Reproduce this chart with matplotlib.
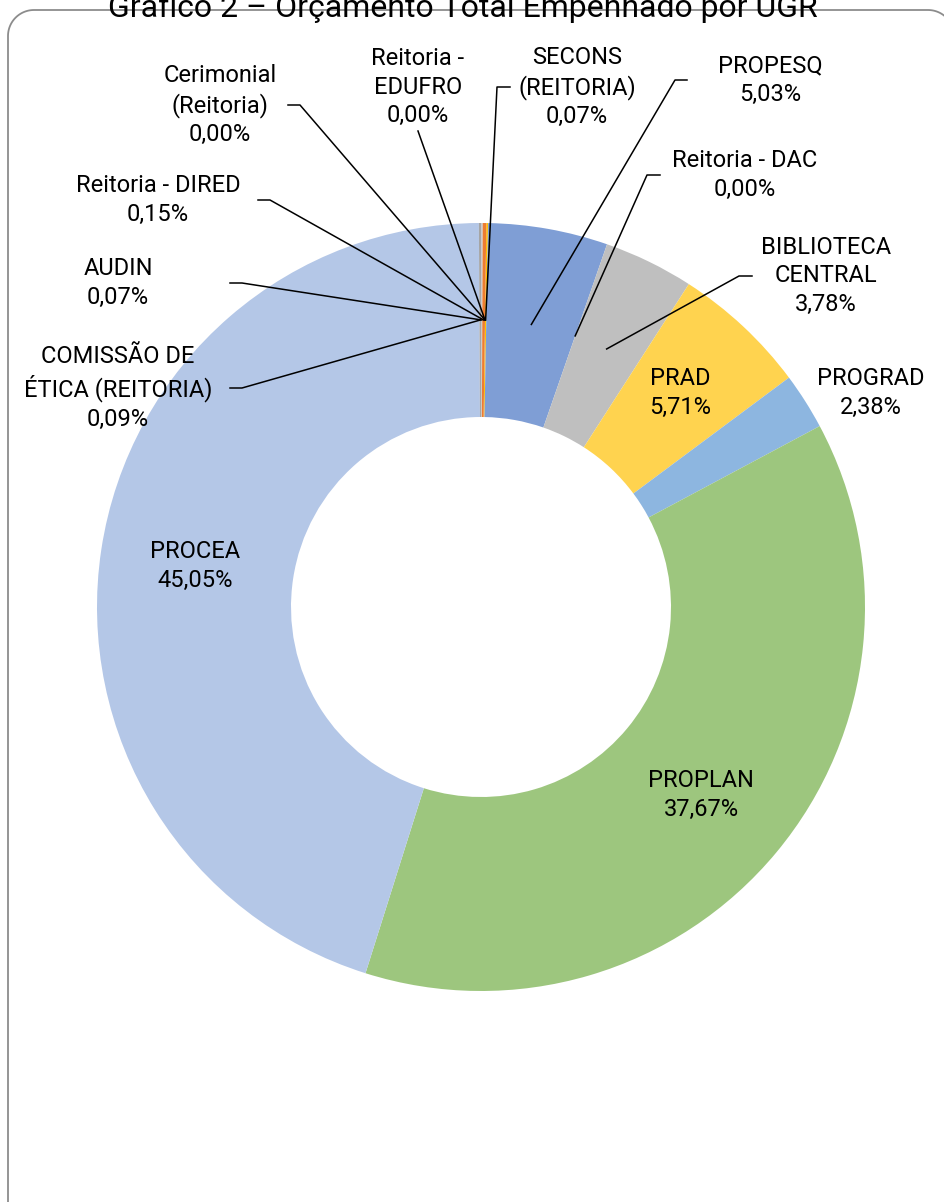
import numpy as np
import matplotlib.pyplot as plt

plt.rcParams['font.family'] = ['Roboto', 'DejaVu Sans']

# data, clockwise from 12 o'clock
units = ['SECONS\n(REITORIA)', 'PROPESQ', 'Reitoria - DAC', 'BIBLIOTECA\nCENTRAL',
         'PRAD', 'PROGRAD', 'PROPLAN', 'PROCEA', 'COMISSÃO DE\nÉTICA (REITORIA)',
         'AUDIN', 'Reitoria - DIRED', 'Cerimonial\n(Reitoria)', 'Reitoria -\nEDUFRO']
shares = [0.07, 5.03, 0.00, 3.78, 5.71, 2.38, 37.67, 45.05, 0.09, 0.07, 0.15, 0.00, 0.00]
colors = ['#FFC000', '#7F9ED5', '#F4B183', '#BFBFBF', '#FFD34F', '#8DB6E0',
          '#9DC67E', '#B4C7E7', '#A5A5A5', '#C9C9C9', '#ED7D31', '#F8CBAD', '#A9A9A9']
title = 'Gráfico 2 – Orçamento Total Empenhado por UGR'

W, H = 944, 1202
cx, cy = 481, 607          # pixel coords from top
R, ring = 384, 194
start = 89.2

# label layout (pixel coords from top): text centre, leader stub (x0, x1)
# None => label inside the ring, no leader
layout = {
    'SECONS\n(REITORIA)': ((577, 87), (510, 497)),
    'PROPESQ': ((770, 80), (687, 675)),
    'Reitoria - DAC': ((745, 175), (660, 647)),
    'BIBLIOTECA\nCENTRAL': ((826, 276), (752, 739)),
    'PRAD': ((680, 393), None),
    'PROGRAD': ((871, 393), None),
    'PROPLAN': ((701, 795), None),
    'PROCEA': ((195, 566), None),
    'COMISSÃO DE\nÉTICA (REITORIA)': ((118, 388), (230, 242)),
    'AUDIN': ((118, 283), (230, 242)),
    'Reitoria - DIRED': ((158, 200), (258, 270)),
    'Cerimonial\n(Reitoria)': ((220, 105), (288, 300)),
    'Reitoria -\nEDUFRO': ((418, 87), 'below'),
}

def py(y):
    return H - y

fig = plt.figure(figsize=(W / 100, H / 100), dpi=100)
ax = fig.add_axes([0, 0, 1, 1])

ax.pie(shares, colors=colors, startangle=start, counterclock=False,
       radius=R, center=(cx, py(cy)),
       wedgeprops=dict(width=ring, linewidth=0))

ax.set_xlim(0, W)
ax.set_ylim(0, H)
ax.set_aspect('equal')
ax.axis('off')

# chart frame: rounded top corners, runs off right and bottom edges
fl, ft, fr, rc = 8, 10, 954, 26
t = np.linspace(0, np.pi / 2, 30)
fx = np.concatenate([[fl], fl + rc - rc * np.cos(t), fr - rc + rc * np.sin(t), [fr]])
fy = np.concatenate([[1230], ft + rc - rc * np.sin(t), ft + rc - rc * np.cos(t), [1230]])
ax.plot(fx, py(fy), color='#8C8C8C', lw=1.3, zorder=0)

ax.text(463, py(17), title, ha='center', va='baseline', fontsize=23, color='black')

# labels + leader lines
cum = np.cumsum([0] + shares)
rmid = R - ring / 2
for i, name in enumerate(units):
    (tx, ty), stub = layout[name]
    txt = f'{name}\n{shares[i]:.2f}%'.replace('.', ',')
    ax.text(tx, py(ty), txt, ha='center', va='center', fontsize=17,
            linespacing=1.3, color='black', zorder=5)
    if stub is None:
        continue
    ang = np.deg2rad(start - (cum[i] + shares[i] / 2) / 100 * 360)
    ex, ey = cx + rmid * np.cos(ang), py(cy) + rmid * np.sin(ang)
    if stub == 'below':
        ax.plot([tx, ex], [py(ty + 44), ey], color='black', lw=1.1, zorder=4)
    else:
        x0, x1 = stub
        ax.plot([x0, x1, ex], [py(ty), py(ty), ey], color='black', lw=1.1, zorder=4)

fig.savefig('out.png', dpi=100, facecolor='white')
